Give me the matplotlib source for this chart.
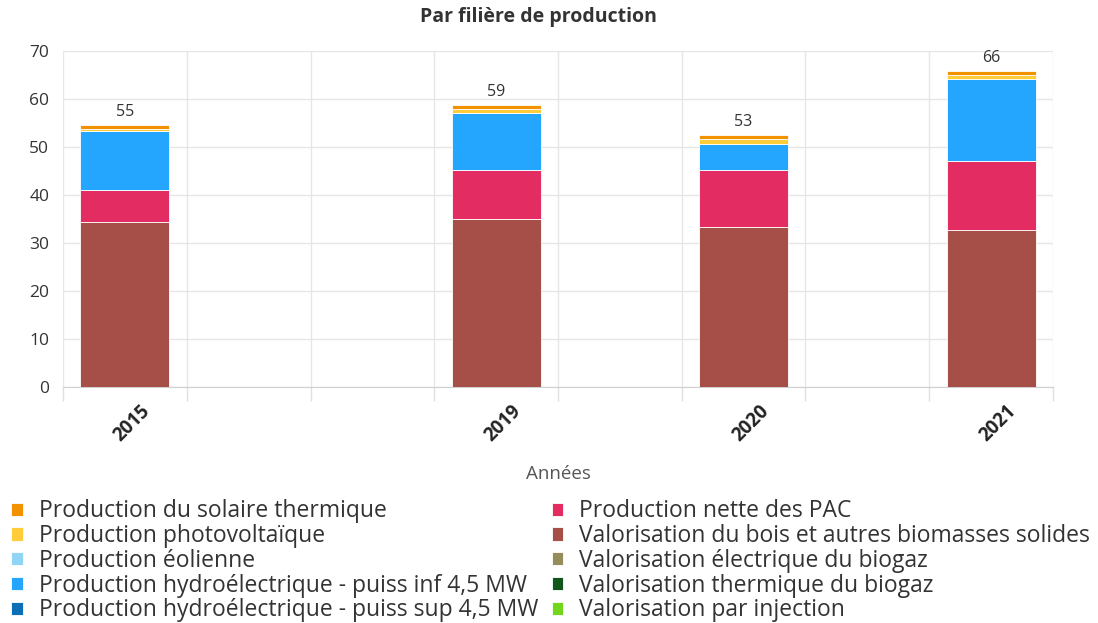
import matplotlib.pyplot as plt
import matplotlib.transforms as mtransforms
import numpy as np

# slots of the category axis (empty slots carry no data)
annees = ['2015', '', '', '2019', '', '2020', '', '2021']

series = [
    'Production du solaire thermique',
    'Production photovoltaïque',
    'Production éolienne',
    'Production hydroélectrique - puiss inf 4,5 MW',
    'Production hydroélectrique - puiss sup 4,5 MW',
    'Production nette des PAC',
    'Valorisation du bois et autres biomasses solides',
    'Valorisation électrique du biogaz',
    'Valorisation thermique du biogaz',
    'Valorisation par injection',
]

nan = np.nan
solaire_thermique = [0.8, nan, nan, 0.8, nan, 0.9, nan, 0.8]
photovoltaique = [0.5, nan, nan, 0.8, nan, 1.0, nan, 1.0]
eolienne = [0, nan, nan, 0, nan, 0, nan, 0]
hydro_inf = [12.2, nan, nan, 11.8, nan, 5.4, nan, 17.1]
hydro_sup = [0, nan, nan, 0, nan, 0, nan, 0]
pac = [6.7, nan, nan, 10.4, nan, 11.9, nan, 14.2]
bois = [34.4, nan, nan, 34.9, nan, 33.4, nan, 32.8]
biogaz_elec = [0, nan, nan, 0, nan, 0, nan, 0]
biogaz_therm = [0, nan, nan, 0, nan, 0, nan, 0]
injection = [0, nan, nan, 0, nan, 0, nan, 0]

valeurs = [solaire_thermique, photovoltaique, eolienne, hydro_inf, hydro_sup,
           pac, bois, biogaz_elec, biogaz_therm, injection]
couleurs = ['#f39200', '#ffcd3c', '#90d5f5', '#24a6ff', '#0a6fb4',
            '#e32d62', '#a54f48', '#958e5c', '#11561b', '#72d61a']

plt.rcParams['font.family'] = ['Open Sans', 'DejaVu Sans']

fig = plt.figure(figsize=(10.98, 6.23), dpi=100)
ax = fig.add_axes([0.0574, 0.379, 0.9016, 0.539])

x = np.arange(len(annees))
bottom = np.zeros(len(annees))
# first series sits on top of the stack, so draw from the last one up
for nom, val, c in reversed(list(zip(series, valeurs, couleurs))):
    v = np.nan_to_num(np.array(val, dtype=float))
    ax.bar(x, v, 0.72, bottom=bottom, color=c, edgecolor='white',
           linewidth=0.6, label=nom, zorder=3)
    bottom += v

total = np.nansum(np.array(valeurs, dtype=float), axis=0)
for xi, t, lab in zip(x, total, annees):
    if lab:
        ax.text(xi, t + 1.0, f'{t:.0f}', ha='center', va='bottom',
                fontsize=11.5, color='#333333')

ax.set_xlim(-0.5, len(annees) - 0.5)
ax.set_ylim(0, 70)
ax.set_yticks(range(0, 71, 10))
ax.tick_params(axis='y', length=0, labelsize=12.5, labelcolor='#333333', pad=10)

ax.set_xticks(x)
ax.set_xticklabels(annees, rotation=45, ha='right', rotation_mode='anchor',
                   fontsize=13.5, fontweight='bold', color='#222222')
ax.tick_params(axis='x', which='major', length=0, pad=10)
shift = mtransforms.ScaledTranslation(0.15, 0, fig.dpi_scale_trans)
for lbl in ax.get_xticklabels():
    lbl.set_transform(lbl.get_transform() + shift)
ax.set_xticks(np.arange(-0.5, len(annees)), minor=True)
ax.tick_params(axis='x', which='minor', length=10, color='#e0e0e0', width=1)

ax.grid(axis='y', color='#e6e6e6', linewidth=1, zorder=0)
ax.grid(axis='x', which='minor', color='#e6e6e6', linewidth=1, zorder=0)
for s in ['top', 'right', 'left']:
    ax.spines[s].set_visible(False)
ax.spines['bottom'].set_color('#d0d0d0')

ax.set_xlabel('Années', fontsize=13.5, color='#555555', labelpad=14)
fig.text(0.49, 0.972, 'Par filière de production', fontsize=14,
         fontweight='bold', color='#333333', ha='center', va='center')

handles, labels = ax.get_legend_handles_labels()
handles, labels = handles[::-1], labels[::-1]
fig.legend(handles, labels, loc='upper left', bbox_to_anchor=(0.002, 0.213),
           ncol=2, frameon=False, fontsize=16.5, handlelength=0.5,
           handleheight=0.5, handletextpad=0.7, labelspacing=0.03,
           columnspacing=0.6, borderaxespad=0, labelcolor='#333333')

fig.savefig('out.png', dpi=100)
